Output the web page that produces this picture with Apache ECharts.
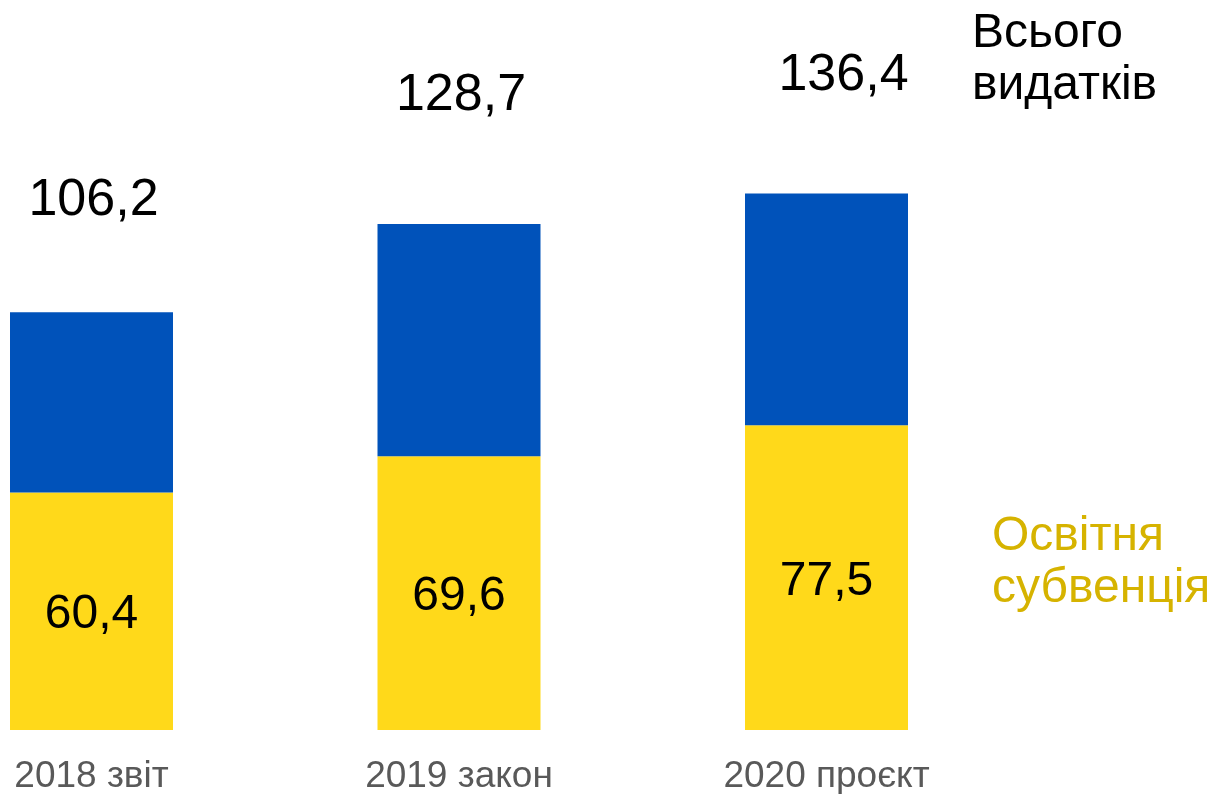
<!DOCTYPE html>
<html>
<head>
<meta charset="utf-8">
<script src="https://cdn.jsdelivr.net/npm/echarts@6/dist/echarts.min.js"></script>
<style>
html,body{margin:0;padding:0;background:#fff;}
#c{width:1212px;height:794px;}
</style>
</head>
<body>
<div id="c"></div>
<script>
var categories = ['2018 звіт', '2019 закон', '2020 проєкт'];
var subvention = [60.4, 69.6, 77.5];
var totals = [106.2, 128.7, 136.4];
var totalLabelShift = [[2, -86], [2, -102], [17, -92]];

function fmt(v) { return String(v).replace('.', ','); }

var other = totals.map(function (t, i) { return +(t - subvention[i]).toFixed(1); });

var chart = echarts.init(document.getElementById('c'));
chart.setOption({
  animation: false,
  backgroundColor: '#fff',
  grid: { left: 91.5, right: 385.5, top: 30, bottom: 64, outerBoundsMode: 'none', containLabel: false },
  xAxis: {
    type: 'category',
    data: categories,
    boundaryGap: false,
    axisLine: { show: false },
    axisTick: { show: false },
    axisLabel: { fontSize: 37, color: '#595959', margin: 28, fontFamily: 'Liberation Sans' }
  },
  yAxis: { type: 'value', min: 0, max: 178, show: false, splitLine: { show: false } },
  series: [
    {
      type: 'bar', stack: 's', barWidth: 163,
      data: subvention,
      itemStyle: { color: '#FFD91A' },
      label: {
        show: true, position: 'inside', offset: [0, 4], fontSize: 48, color: '#000',
        fontFamily: 'Liberation Sans',
        formatter: function (p) { return fmt(p.value); }
      }
    },
    {
      type: 'bar', stack: 's', barWidth: 163,
      data: other.map(function (v, i) {
        return { value: v, label: { offset: totalLabelShift[i] } };
      }),
      itemStyle: { color: '#0052BA' },
      label: {
        show: true, position: 'top', distance: 0, fontSize: 52, color: '#000',
        fontFamily: 'Liberation Sans',
        formatter: function (p) { return fmt(totals[p.dataIndex]); }
      }
    }
  ],
  graphic: [
    { type: 'text', left: 972, top: 8, style: { text: 'Всього\nвидатків', fontSize: 48, lineHeight: 52, fill: '#000', fontFamily: 'Liberation Sans' } },
    { type: 'text', left: 992, top: 511, style: { text: 'Освітня\nсубвенція', fontSize: 48, lineHeight: 52, fill: '#D6B300', fontFamily: 'Liberation Sans' } }
  ]
});
</script>
</body>
</html>
